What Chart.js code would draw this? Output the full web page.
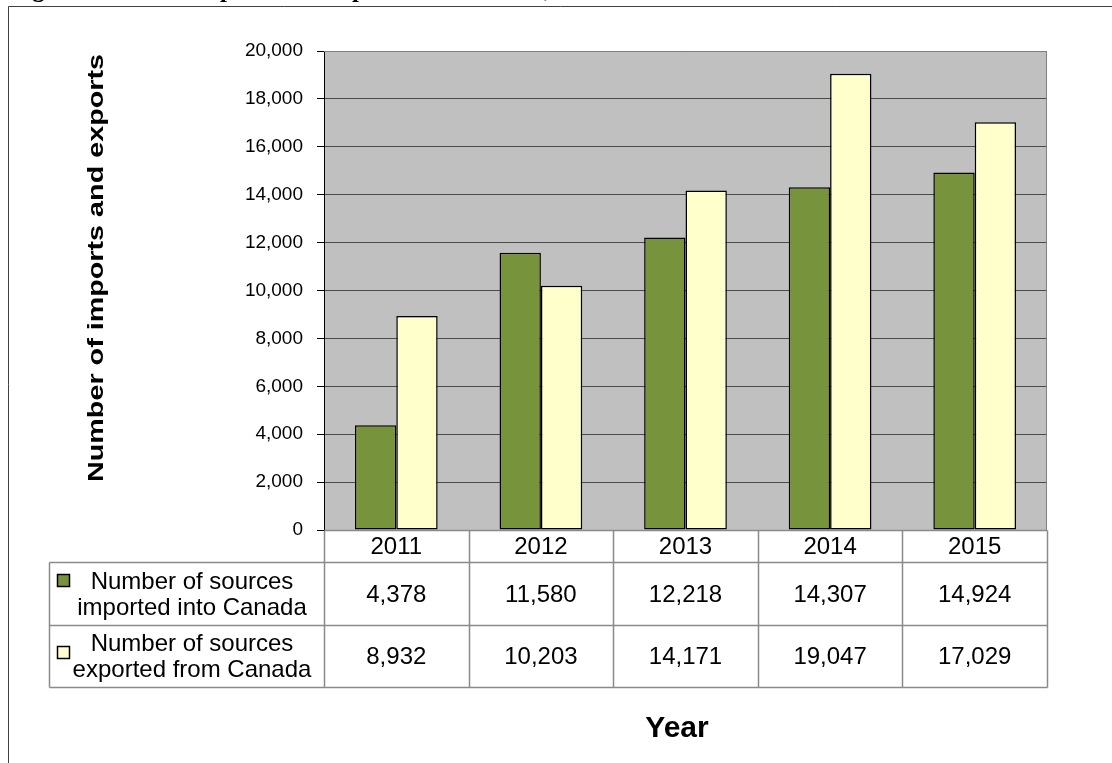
<!DOCTYPE html>
<html>
<head>
<meta charset="utf-8">
<script src="https://cdn.jsdelivr.net/npm/chart.js@4"></script>
<style>
  html, body { margin: 0; padding: 0; background: #fff; overflow: hidden; }
  #wrap { position: relative; width: 1112px; height: 763px; }
  canvas { display: block; }
</style>
</head>
<body>
<div id="wrap"><canvas id="c" width="1112" height="763"></canvas></div>
<script>
// ---- data ----
const figureTitle = 'Figure 10: SSRS imports and exports transactions, 2011 to 2015';
const yAxisTitle = 'Number of imports and exports';
const xAxisTitle = 'Year';
const categories = ['2011', '2012', '2013', '2014', '2015'];
const importsLabel = ['Number of sources', 'imported into Canada'];
const exportsLabel = ['Number of sources', 'exported from Canada'];
const importsValues = [4378, 11580, 12218, 14307, 14924];
const exportsValues = [8932, 10203, 14171, 19047, 17029];
const yMin = 0;
const yMax = 20000;
const yStep = 2000;

// ---- styles ----
const SANS = '"Liberation Sans", Arial, sans-serif';
const SERIF = '"Liberation Serif", "Times New Roman", serif';
const GREEN = '#77933C';
const YELLOW = '#FFFFCC';
const fmt = v => v.toLocaleString('en-US');

const extras = {
  id: 'extras',
  beforeDraw(chart) {
    const { ctx, chartArea: a } = chart;
    ctx.save();
    ctx.fillStyle = '#ffffff';
    ctx.fillRect(0, 0, chart.width, chart.height);
    ctx.fillStyle = '#C0C0C0';
    ctx.fillRect(a.left, a.top, a.right - a.left, a.bottom - a.top);
    ctx.restore();
  },
  afterDraw(chart) {
    const { ctx, chartArea: a } = chart;
    const xs = chart.scales.x;
    const n = categories.length;
    const colW = xs.getPixelForValue(1) - xs.getPixelForValue(0);
    const edges = [];
    for (let i = 0; i <= n; i++) edges.push(Math.round(xs.getPixelForValue(i) - colW / 2) + 0.5);

    ctx.save();
    // plot area border (top / right)
    ctx.strokeStyle = '#808080';
    ctx.lineWidth = 1;
    ctx.beginPath();
    ctx.moveTo(a.left, Math.round(a.top) + 0.5);
    ctx.lineTo(Math.round(a.right) - 0.5, Math.round(a.top) + 0.5);
    ctx.lineTo(Math.round(a.right) - 0.5, a.bottom);
    ctx.stroke();

    // data table
    const tableLeft = 49.5;
    const hdrTop = Math.round(a.bottom) + 0.5;
    const hdrBot = hdrTop + 32;
    const r1Bot = hdrBot + 63;
    const r2Bot = r1Bot + 62;
    ctx.strokeStyle = '#8a8a8a';
    ctx.lineWidth = 1.5;
    ctx.beginPath();
    edges.forEach(e => { ctx.moveTo(e, hdrTop); ctx.lineTo(e, r2Bot); });
    ctx.moveTo(tableLeft, hdrBot); ctx.lineTo(tableLeft, r2Bot);
    ctx.moveTo(tableLeft, hdrBot); ctx.lineTo(edges[n], hdrBot);
    ctx.moveTo(tableLeft, r1Bot); ctx.lineTo(edges[n], r1Bot);
    ctx.moveTo(tableLeft, r2Bot); ctx.lineTo(edges[n], r2Bot);
    ctx.moveTo(edges[0], hdrTop); ctx.lineTo(edges[n], hdrTop);
    ctx.stroke();

    ctx.fillStyle = '#000';
    ctx.font = '24px ' + SANS;
    ctx.textAlign = 'center';
    ctx.textBaseline = 'middle';
    categories.forEach((c, i) => {
      const cx = xs.getPixelForValue(i);
      ctx.fillText(c, cx, (hdrTop + hdrBot) / 2 + 1);
      ctx.fillText(fmt(importsValues[i]), cx, (hdrBot + r1Bot) / 2 + 1);
      ctx.fillText(fmt(exportsValues[i]), cx, (r1Bot + r2Bot) / 2 + 1);
    });

    const rows = [
      { lines: importsLabel, color: GREEN, top: hdrBot, bot: r1Bot, mk: 18 },
      { lines: exportsLabel, color: YELLOW, top: r1Bot, bot: r2Bot, mk: 27 }
    ];
    rows.forEach(r => {
      const mid = (r.top + r.bot) / 2;
      ctx.fillStyle = '#000';
      ctx.fillText(r.lines[0], 192, mid - 12);
      ctx.fillText(r.lines[1], 192, mid + 14);
      ctx.fillStyle = r.color;
      ctx.fillRect(57.5, r.top + r.mk - 6, 12, 12);
      ctx.strokeStyle = '#000';
      ctx.lineWidth = 1.5;
      ctx.strokeRect(57.5, r.top + r.mk - 6, 12, 12);
    });

    // y axis title (stretched along its length like the source)
    ctx.fillStyle = '#000';
    ctx.font = 'bold 22px ' + SANS;
    ctx.textAlign = 'center';
    ctx.textBaseline = 'alphabetic';
    const w = ctx.measureText(yAxisTitle).width;
    ctx.save();
    ctx.translate(103, 268);
    ctx.rotate(-Math.PI / 2);
    ctx.scale(428 / w, 1);
    ctx.fillText(yAxisTitle, 0, 0);
    ctx.restore();

    // x axis title
    ctx.font = 'bold 30px ' + SANS;
    ctx.fillText(xAxisTitle, 677, 737);

    // figure title (cut off at the top of the page)
    ctx.font = 'bold 25px ' + SERIF;
    ctx.textAlign = 'left';
    ctx.textBaseline = 'alphabetic';
    ctx.fillText(figureTitle, 10, -3);

    // outer frame
    ctx.strokeStyle = '#404040';
    ctx.lineWidth = 1;
    ctx.beginPath();
    ctx.moveTo(8.5, chart.height);
    ctx.lineTo(8.5, 6.5);
    ctx.lineTo(chart.width, 6.5);
    ctx.stroke();
    ctx.restore();
  }
};

new Chart(document.getElementById('c'), {
  type: 'bar',
  data: {
    labels: categories,
    datasets: [
      { label: importsLabel.join(' '), data: importsValues, backgroundColor: GREEN, borderColor: '#000', borderWidth: 1.5, borderSkipped: false },
      { label: exportsLabel.join(' '), data: exportsValues, backgroundColor: YELLOW, borderColor: '#000', borderWidth: 1.5, borderSkipped: false }
    ]
  },
  options: {
    responsive: false,
    animation: false,
    devicePixelRatio: 1,
    layout: { padding: { left: 10, top: 51, right: 65, bottom: 233 } },
    datasets: { bar: { categoryPercentage: 0.572, barPercentage: 1.0 } },
    plugins: { legend: { display: false }, tooltip: { enabled: false }, title: { display: false } },
    scales: {
      x: { display: false, grid: { display: false } },
      y: {
        min: yMin, max: yMax,
        afterFit(scale) { scale.width = 314; },
        ticks: {
          stepSize: yStep,
          color: '#000',
          padding: 14,
          font: { family: SANS, size: 19 },
          callback: v => fmt(v)
        },
        grid: { color: '#4a4a4a', lineWidth: 1, tickLength: 7, tickColor: '#000', drawTicks: true },
        border: { display: true, color: '#000', width: 1 }
      }
    }
  },
  plugins: [extras]
});
</script>
</body>
</html>
